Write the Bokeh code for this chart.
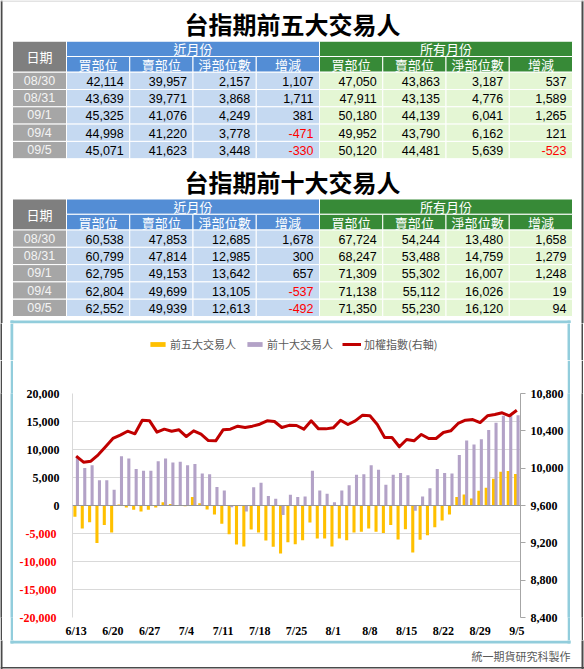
from bokeh.plotting import figure
from bokeh.layouts import row
from bokeh.models import (Range1d, LinearAxis, FixedTicker, NumeralTickFormatter, Span,
                          Legend, LegendItem, ColumnDataSource)
from bokeh.transform import dodge
from bokeh.core.properties import value
from bokeh.embed import file_html
from bokeh.resources import INLINE

# ---------------- data ----------------
title_top5 = "台指期前五大交易人"
title_top10 = "台指期前十大交易人"
date_header = "日期"
group_headers = ["近月份", "所有月份"]
col_headers = ["買部位", "賣部位", "淨部位數", "增減"]
table_dates = ["08/30", "08/31", "09/1", "09/4", "09/5"]

top5_near_buy = [42114, 43639, 45325, 44998, 45071]
top5_near_sell = [39957, 39771, 41076, 41220, 41623]
top5_near_net = [2157, 3868, 4249, 3778, 3448]
top5_near_chg = [1107, 1711, 381, -471, -330]
top5_all_buy = [47050, 47911, 50180, 49952, 50120]
top5_all_sell = [43863, 43135, 44139, 43790, 44481]
top5_all_net = [3187, 4776, 6041, 6162, 5639]
top5_all_chg = [537, 1589, 1265, 121, -523]

top10_near_buy = [60538, 60799, 62795, 62804, 62552]
top10_near_sell = [47853, 47814, 49153, 49699, 49939]
top10_near_net = [12685, 12985, 13642, 13105, 12613]
top10_near_chg = [1678, 300, 657, -537, -492]
top10_all_buy = [67724, 68247, 71309, 71138, 71350]
top10_all_sell = [54244, 53488, 55302, 55112, 55230]
top10_all_net = [13480, 14759, 16007, 16026, 16120]
top10_all_chg = [1658, 1279, 1248, 19, 94]

chart_dates = ["6/13", "6/14", "6/15", "6/16",
               "6/19", "6/20", "6/21", "6/22", "6/23",
               "6/26", "6/27", "6/28", "6/29", "6/30",
               "7/3", "7/4", "7/5", "7/6", "7/7",
               "7/10", "7/11", "7/12", "7/13", "7/14",
               "7/17", "7/18", "7/19", "7/20", "7/21",
               "7/24", "7/25", "7/26", "7/27", "7/28",
               "7/31", "8/1", "8/2", "8/3", "8/4",
               "8/7", "8/8", "8/9", "8/10", "8/11",
               "8/14", "8/15", "8/16", "8/17", "8/18",
               "8/21", "8/22", "8/23", "8/24", "8/25",
               "8/28", "8/29", "8/30", "8/31", "9/1",
               "9/4", "9/5"]
top5_series = [-2000, -4100, -3000, -6700, -3500, -4800, 200, -350, -750, -1050,
               -750, -350, 600, 250, -100, -150, 1500, 400, -700, -1600,
               -3250, -5150, -6950, -7300, -4300, -4800, -6250, -7350, -8550, -6550,
               -6900, -6200, -3050, -5900, -5900, -7300, -5900, -6200, -4800, -4700,
               -4100, -4700, -4900, -3500, -6050, -4250, -8400, -6100, -5300, -3900,
               -2700, -1600, 1500, 1950, 1250, 2650, 3187, 4776, 6041, 6162, 5639]
top10_series = [8700, 6700, 7200, 4500, 4500, 2800, 8800, 8400, 6500, 6200,
                6200, 7900, 8400, 7700, 7800, 7200, 7400, 5700, 5600, 3300,
                2700, -300, 100, -1050, 3250, 4050, 1700, 1200, -1700, 1900,
                1500, 1600, 6200, 2700, 2100, 600, 2700, 3600, 5500, 5600,
                7200, 6400, 3700, 5500, 5800, 5400, -950, 1600, 3100, 6500,
                5800, 5700, 9000, 11600, 10900, 11822, 13480, 14759, 16007, 16026, 16120]
taiex_series = [10129, 10064, 10075, 10143, 10229, 10318, 10354, 10396, 10368, 10514,
                10507, 10386, 10418, 10396, 10411, 10339, 10400, 10364, 10296, 10293,
                10411, 10418, 10450, 10436, 10450, 10471, 10507, 10500, 10436, 10459,
                10457, 10418, 10507, 10421, 10421, 10432, 10514, 10468, 10507, 10568,
                10561, 10468, 10329, 10329, 10229, 10307, 10293, 10361, 10318, 10318,
                10382, 10400, 10479, 10514, 10521, 10489, 10561, 10575, 10593, 10561, 10621]
left_ticks = [-20000, -15000, -10000, -5000, 0, 5000, 10000, 15000, 20000]
right_ticks = [8400, 8800, 9200, 9600, 10000, 10400, 10800]
legend_labels = ["前五大交易人", "前十大交易人", "加權指數(右軸)"]
footer_text = "統一期貨研究科製作"

# ---------------- styles ----------------
CJK = "Noto Sans CJK TC"
NUMF = "Liberation Sans"
SERIF = "Liberation Serif"
BLUE, LBLUE = "#538dd5", "#c5d9f1"
GREEN, LGREEN = "#378a37", "#e4f6d4"
DGRAY, LGRAY = "#7f7f7f", "#a6a6a6"
BOXC = "#92cddc"
EDGE = "#4a4a4a"
YEL, PUR, RED = "#ffc000", "#b3a2c7", "#c00000"
PAGE_W, PAGE_H = 584, 669

# page regions (pixels)
BX0, BX1, BY0, BY1 = 10, 570, 320, 643       # light-blue chart box (outer edges)
BW = 3                                         # box line width
FR_L, FR_R, FR_T, FR_B = 72, 520, 393, 617     # plot area
CX0, CX1, CY0, CY1 = BX0 + BW, BX1 - BW, BY0 + BW, BY1 - BW
LY = 360                                       # split between legend strip and chart

# decorative rectangles in page pixels: (x0, x1, y0, y1, color)
DECOR = [(0, 2, 0, PAGE_H, EDGE), (581, 583, 0, PAGE_H, EDGE),
         (0, PAGE_W, 666.5, 668, EDGE), (0, PAGE_W, 0, 1, "#c8c8c8"),
         (BX0, BX1, BY0, BY0 + BW, BOXC), (BX0, BX1, BY1 - BW, BY1, BOXC),
         (BX0, BX0 + BW, BY0, BY1, BOXC), (BX1 - BW, BX1, BY0, BY1, BOXC)]


def pix_fig(x0, x1, y0, y1):
    """A figure whose whole canvas is a frame in page-pixel units."""
    f = figure(width=x1 - x0, height=y1 - y0, x_range=Range1d(x0, x1), y_range=Range1d(y1, y0),
               output_backend="svg", toolbar_location=None, min_border=0,
               x_axis_location=None, y_axis_location=None, outline_line_color=None)
    f.xgrid.visible = False
    f.ygrid.visible = False
    f.quad(left=[d[0] for d in DECOR], right=[d[1] for d in DECOR],
           top=[d[2] for d in DECOR], bottom=[d[3] for d in DECOR],
           fill_color=[d[4] for d in DECOR], line_color=None)
    return f


def solid_fig(x0, x1, y0, y1, color):
    f = figure(width=x1 - x0, height=y1 - y0, x_range=Range1d(0, 1), y_range=Range1d(0, 1),
               output_backend="svg", toolbar_location=None, min_border=0,
               x_axis_location=None, y_axis_location=None, outline_line_color=None,
               border_fill_color=color, background_fill_color=color)
    f.xgrid.visible = False
    f.ygrid.visible = False
    return f


def band(y0, y1, center):
    return row(solid_fig(0, 2, y0, y1, EDGE), solid_fig(2, BX0, y0, y1, "white"),
               solid_fig(BX0, CX0, y0, y1, BOXC), center, solid_fig(CX1, BX1, y0, y1, BOXC),
               solid_fig(BX1, 581, y0, y1, "white"), solid_fig(581, 583, y0, y1, EDGE),
               solid_fig(583, PAGE_W, y0, y1, "white"))


# ---------------- tables figure (page y 0..CY0) ----------------
ft = pix_fig(0, PAGE_W, 0, CY0)
COL_X = [12.0, 66.0] + [66.0 + 63.25 * k for k in range(1, 9)]
H1, H2, RH = 15.3, 15.7, 17.3


def draw_table(fig, top, title, cols):
    rx, ry, rw, rh, rc = [], [], [], [], []

    def cell(x0, x1, y0, y1, c):
        rx.append((x0 + x1) / 2); ry.append((y0 + y1) / 2)
        rw.append(x1 - x0); rh.append(y1 - y0); rc.append(c)

    hx, hy, ht = [], [], []
    cell(COL_X[0], COL_X[1], top, top + H1 + H2, DGRAY)
    hx.append((COL_X[0] + COL_X[1]) / 2); hy.append(top + (H1 + H2) / 2); ht.append(date_header)
    for g, (a, b, c) in enumerate([(1, 5, BLUE), (5, 9, GREEN)]):
        cell(COL_X[a], COL_X[b], top, top + H1, c)
        hx.append((COL_X[a] + COL_X[b]) / 2); hy.append(top + H1 / 2); ht.append(group_headers[g])
    for k in range(8):
        cell(COL_X[k + 1], COL_X[k + 2], top + H1, top + H1 + H2, BLUE if k < 4 else GREEN)
        hx.append((COL_X[k + 1] + COL_X[k + 2]) / 2); hy.append(top + H1 + H2 / 2)
        ht.append(col_headers[k % 4])
    nx, ny, nt, nc = [], [], [], []
    dx, dy, dt = [], [], []
    for r in range(len(table_dates)):
        y0 = top + H1 + H2 + r * RH
        cell(COL_X[0], COL_X[1], y0, y0 + RH, LGRAY)
        dx.append((COL_X[0] + COL_X[1]) / 2); dy.append(y0 + RH / 2); dt.append(table_dates[r])
        for k in range(8):
            cell(COL_X[k + 1], COL_X[k + 2], y0, y0 + RH, LBLUE if k < 4 else LGREEN)
            v = cols[k][r]
            nx.append(COL_X[k + 2] - 6); ny.append(y0 + RH / 2 + 0.5)
            nt.append(f"{v:,}"); nc.append("#ff0000" if v < 0 else "#000000")
    fig.rect(x="x", y="y", width="w", height="h", fill_color="c", line_color="white", line_width=1,
             source=ColumnDataSource(dict(x=rx, y=ry, w=rw, h=rh, c=rc)))
    fig.text(x=hx, y=hy, text=ht, text_color="white", text_font=value(CJK), text_font_size="13px",
             text_align="center", text_baseline="middle")
    fig.text(x=dx, y=dy, text=dt, text_color="#f4f4f4", text_font=value(NUMF), text_font_size="12.5px",
             text_align="center", text_baseline="middle")
    fig.text(x="x", y="y", text="t", text_color="c", text_font=value(NUMF), text_font_size="12.5px",
             text_align="right", text_baseline="middle",
             source=ColumnDataSource(dict(x=nx, y=ny, t=nt, c=nc)))
    fig.text(x=[292], y=[top - 17.5], text=[title], text_color="#000000", text_font=value(CJK),
             text_font_size="24px", text_font_style="bold", text_align="center", text_baseline="middle")


draw_table(ft, 40.7, title_top5,
           [top5_near_buy, top5_near_sell, top5_near_net, top5_near_chg,
            top5_all_buy, top5_all_sell, top5_all_net, top5_all_chg])
draw_table(ft, 198.5, title_top10,
           [top10_near_buy, top10_near_sell, top10_near_net, top10_near_chg,
            top10_all_buy, top10_all_sell, top10_all_net, top10_all_chg])

# ---------------- legend strip (page y CY0..LY) ----------------
# proxy renderers (one point placed far outside the strip's visible range) carry the legend glyphs
lf = pix_fig(CX0, CX1, CY0, LY)
OUT = -1.0e6
d5 = lf.vbar(x=[OUT], top=[OUT + 1], bottom=[OUT], width=1, fill_color=YEL, line_color=None)
d10 = lf.vbar(x=[OUT], top=[OUT + 1], bottom=[OUT], width=1, fill_color=PUR, line_color=None)
dl = lf.line(x=[OUT, OUT + 1], y=[OUT, OUT], line_color=RED, line_width=3)
legend = Legend(items=[LegendItem(label=legend_labels[0], renderers=[d5]),
                       LegendItem(label=legend_labels[1], renderers=[d10]),
                       LegendItem(label=legend_labels[2], renderers=[dl])],
                location=(148 - CX0, LY - 352), orientation="horizontal",
                border_line_color=None, background_fill_alpha=0, padding=0, margin=0,
                spacing=9, glyph_width=19, glyph_height=6, label_standoff=3, label_height=14,
                label_text_font=CJK, label_text_font_size="11px", label_text_color="#595959")
lf.add_layout(legend)

# ---------------- chart figure (page y LY..CY1) ----------------
N = len(chart_dates)
fc = figure(width=CX1 - CX0, height=CY1 - LY, x_range=Range1d(-0.5, N - 0.5),
            y_range=Range1d(-20000, 20000), output_backend="svg", toolbar_location=None,
            min_border_left=FR_L - CX0, min_border_right=CX1 - FR_R,
            min_border_top=FR_T - LY, min_border_bottom=CY1 - FR_B,
            outline_line_color=None)
fc.extra_y_ranges = {"idx": Range1d(8400, 10800)}

src = ColumnDataSource(dict(x=list(range(N)), top5=top5_series, top10=top10_series, taiex=taiex_series))
fc.vbar(x=dodge("x", -0.17, range=fc.x_range), top="top5", width=0.42, fill_color=YEL,
        line_color=None, source=src)
fc.vbar(x=dodge("x", 0.17, range=fc.x_range), top="top10", width=0.42, fill_color=PUR,
        line_color=None, source=src)
fc.add_layout(Span(location=0, dimension="width", line_color="#969696", line_width=1))
fc.line(x="x", y="taiex", y_range_name="idx", line_color=RED, line_width=3,
        line_join="round", source=src)

fc.xgrid.visible = False
fc.ygrid.ticker = FixedTicker(ticks=left_ticks)
fc.ygrid.grid_line_color = "#d9d9d9"


def style_axis(ax, color="#000000"):
    ax.major_label_text_font = SERIF
    ax.major_label_text_font_style = "bold"
    ax.major_label_text_font_size = "12px"
    ax.major_label_text_color = color
    ax.minor_tick_line_color = None


# left axis, inner: non-negative labels in black
ly = fc.yaxis[0]
ly.ticker = FixedTicker(ticks=[t for t in left_ticks if t >= 0])
ly.formatter = NumeralTickFormatter(format="0,0")
ly.axis_line_color = "#d9d9d9"
ly.major_tick_line_color = None
ly.major_tick_out = 0
ly.major_tick_in = 0
ly.major_label_standoff = 13
style_axis(ly)

# left axis, outer: negative labels in red, pulled back into the same label column
LBL_W = 33  # width of the widest black label ("20,000") at 12px bold serif
ly_neg = LinearAxis(ticker=FixedTicker(ticks=[t for t in left_ticks if t < 0]),
                    formatter=NumeralTickFormatter(format="0,0"))
ly_neg.axis_line_color = None
ly_neg.major_tick_line_color = None
ly_neg.major_tick_out = 0
ly_neg.major_tick_in = 0
ly_neg.major_label_standoff = -LBL_W
style_axis(ly_neg, "#ff0000")
fc.add_layout(ly_neg, "left")

# right axis
ry_ax = LinearAxis(y_range_name="idx", ticker=FixedTicker(ticks=right_ticks),
                   formatter=NumeralTickFormatter(format="0,0"))
ry_ax.axis_line_color = "#a6a6a6"
ry_ax.major_tick_line_color = "#a6a6a6"
ry_ax.major_tick_out = 5
ry_ax.major_tick_in = 0
ry_ax.major_label_standoff = 5
style_axis(ry_ax)
fc.add_layout(ry_ax, "right")

# bottom axis
bx = fc.xaxis[0]
tick_idx = list(range(0, N, 5))
bx.ticker = FixedTicker(ticks=tick_idx)
bx.major_label_overrides = {i: chart_dates[i] for i in tick_idx}
bx.axis_line_color = None
bx.major_tick_line_color = None
bx.major_tick_out = 0
bx.major_tick_in = 0
bx.major_label_standoff = 6
style_axis(bx)

# ---------------- footer figure (page y CY1..PAGE_H) ----------------
ff = pix_fig(0, PAGE_W, CY1, PAGE_H)
ff.text(x=[570], y=[655], text=[footer_text], text_align="right", text_baseline="middle",
        text_font=value(CJK), text_font_size="11px", text_color="#595959")

p = [ft, band(CY0, LY, lf), band(LY, CY1, fc), ff]
open("out.html", "w").write(file_html(p, INLINE))
